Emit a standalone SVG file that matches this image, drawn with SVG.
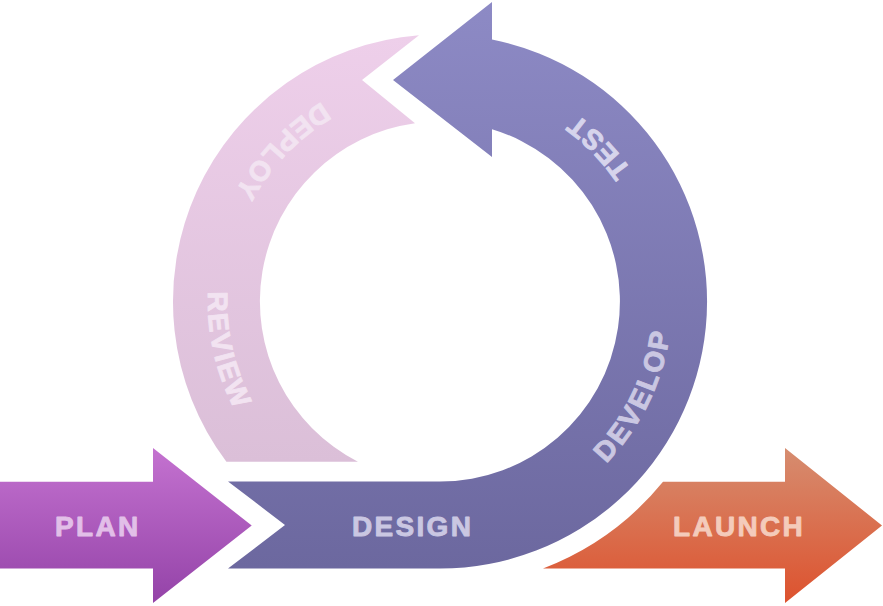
<svg xmlns="http://www.w3.org/2000/svg" xmlns:xlink="http://www.w3.org/1999/xlink" width="883" height="606" viewBox="0 0 883 606">
<style>
.lbl{font-family:"Liberation Sans",Arial,sans-serif;font-weight:bold;font-size:28px;letter-spacing:2.3px;stroke-width:0.9px;stroke-linejoin:round}
.tPlan{fill:#e2bfe8;stroke:#e2bfe8}
.tDesign{fill:#cac7e2;stroke:#cac7e2}
.tTest{fill:#d6d4ec;stroke:#d6d4ec}
.tPink{fill:#f2e3f1;stroke:#f2e3f1}
.tLaunch{fill:#f4cbbb;stroke:#f4cbbb}
</style>
<defs>
<linearGradient id="gPlan" x1="0" y1="0" x2="0" y2="1"><stop offset="0" stop-color="#c472d0"/><stop offset="1" stop-color="#9443a8"/></linearGradient>
<linearGradient id="gRing" x1="0" y1="0" x2="0" y2="1"><stop offset="0" stop-color="#8d8ac5"/><stop offset="1" stop-color="#6c689f"/></linearGradient>
<linearGradient id="gPink" x1="0" y1="0" x2="0" y2="1"><stop offset="0" stop-color="#eecfea"/><stop offset="1" stop-color="#dbbfd8"/></linearGradient>
<linearGradient id="gLaunch" x1="0" y1="0" x2="0" y2="1"><stop offset="0" stop-color="#d68d70"/><stop offset="1" stop-color="#dd522e"/></linearGradient>
<path id="ring" d="M440,533.5 A232,232 0 0 0 672,301.5 A232,232 0 0 0 440,69.5 A232,232 0 0 0 208,301.5 A232,232 0 0 0 440,533.5"/>
</defs>
<g id="review-deploy">
<path d="M226.4,461.7 A267,267 0 0 1 419,35.3 L362,80 L415,123.2 A180,180 0 0 0 357.9,461.7 Z" fill="url(#gPink)"/>
<text class="lbl tPink"><textPath xlink:href="#ring" href="#ring" startOffset="917" text-anchor="middle">DEPLOY</textPath></text>
<text class="lbl tPink"><textPath xlink:href="#ring" href="#ring" startOffset="1145" text-anchor="middle">REVIEW</textPath></text>
</g>
<g id="design-develop-test">
<path d="M228,481.5 L440,481.5 A180,180 0 0 0 492,129.2 L492,157 L393,80 L492,2 L492,39.6 A267,267 0 0 1 440,568.5 L228,568.5 L285,525 Z" fill="url(#gRing)"/>
<text class="lbl tDesign" x="352" y="536">DESIGN</text>
<text class="lbl tDesign"><textPath xlink:href="#ring" href="#ring" startOffset="260" text-anchor="middle">DEVELOP</textPath></text>
<text class="lbl tTest"><textPath xlink:href="#ring" href="#ring" startOffset="544" text-anchor="middle">TEST</textPath></text>
</g>
<g id="plan">
<path d="M0,481.7 H153 V448 L251.7,525.5 L153,603 V568.5 H0 Z" fill="url(#gPlan)"/>
<text class="lbl tPlan" x="55" y="536">PLAN</text>
</g>
<g id="launch">
<path d="M663,481.7 H785 V448 L882,525.5 L785,603 V568.5 H543 A286.5,286.5 0 0 0 663,481.7 Z" fill="url(#gLaunch)"/>
<text class="lbl tLaunch" x="673" y="536">LAUNCH</text>
</g>
<g id="connectors"></g>
</svg>
